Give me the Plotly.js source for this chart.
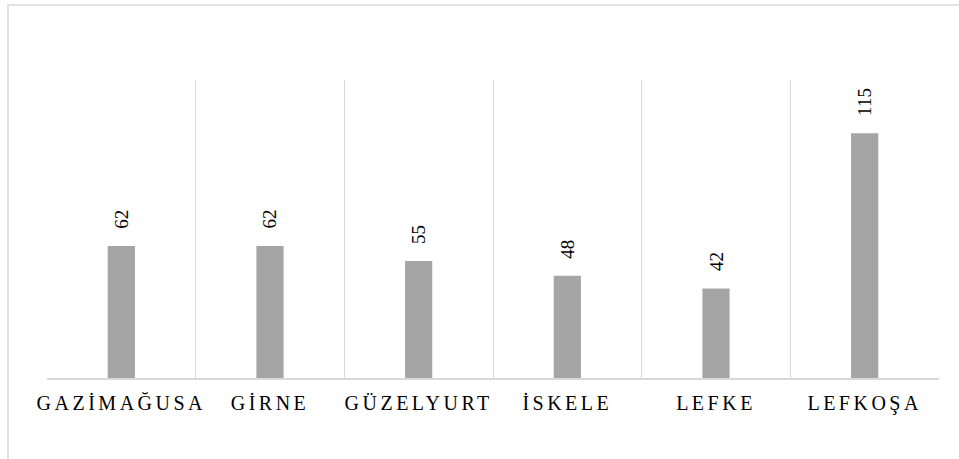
<!DOCTYPE html>
<html>
<head>
<meta charset="utf-8">
<script src="https://cdn.plot.ly/plotly-3.0.1.min.js"></script>
</head>
<body style="margin:0;padding:0;background:#fff;font-family:'Liberation Serif',serif">
<div id="chart" style="width:959px;height:459px"></div>
<script>
const categories = ["GAZİMAĞUSA", "GİRNE", "GÜZELYURT", "İSKELE", "LEFKE", "LEFKOŞA"];
const values = [62, 62, 55, 48, 42, 115];

const FONT = '"Liberation Serif", "Times New Roman", Times, serif';

const annotations = categories.map((c, i) => ({
  x: i, y: values[i], xref: 'x', yref: 'y',
  text: String(values[i]), textangle: -90,
  showarrow: false, yanchor: 'bottom', xanchor: 'center',
  yshift: 15,
  font: {family: FONT, size: 19, color: '#000'}
}));

const data = [{
  type: 'bar',
  x: categories,
  y: values,
  marker: {color: '#a5a5a5'},
  width: 0.183,
  hoverinfo: 'none'
}];

const layout = {
  width: 959, height: 459,
  margin: {l: 47, r: 20, t: 80, b: 81},
  paper_bgcolor: '#fff', plot_bgcolor: '#fff',
  font: {family: FONT, size: 18, color: '#000'},
  showlegend: false,
  xaxis: {
    type: 'category',
    tickson: 'boundaries',
    showgrid: true, gridcolor: '#d9d9d9', gridwidth: 1.3,
    showline: true, linecolor: '#d9d9d9', linewidth: 1.5,
    ticks: '', range: [-0.5, 5.5],
    tickfont: {family: FONT, size: 20, color: '#000'},
    ticklabelstandoff: 6
  },
  yaxis: {
    range: [0, 140], showgrid: false, showticklabels: false,
    zeroline: false, showline: false, ticks: ''
  },
  annotations: annotations,
  shapes: [{
    type: 'rect', xref: 'paper', yref: 'paper',
    x0: (8 - 47) / 892, x1: 1.2, y0: -0.5, y1: (378 - 5) / 298,
    line: {color: '#d9d9d9', width: 1.5}, fillcolor: 'rgba(0,0,0,0)', layer: 'below'
  }]
};

function draw() {
  return Plotly.newPlot('chart', data, layout, {displayModeBar: false}).then(gd => {
    gd.querySelectorAll('text').forEach(t => { t.style.fontFamily = "'Liberation Serif', serif"; });
    gd.querySelectorAll('.xtick text').forEach(t => { t.style.letterSpacing = '3.5px'; });
  });
}
const fl = (document.fonts && document.fonts.load) ? document.fonts.load("20px 'Liberation Serif'") : Promise.resolve();
fl.then(draw, draw);
</script>
</body>
</html>
